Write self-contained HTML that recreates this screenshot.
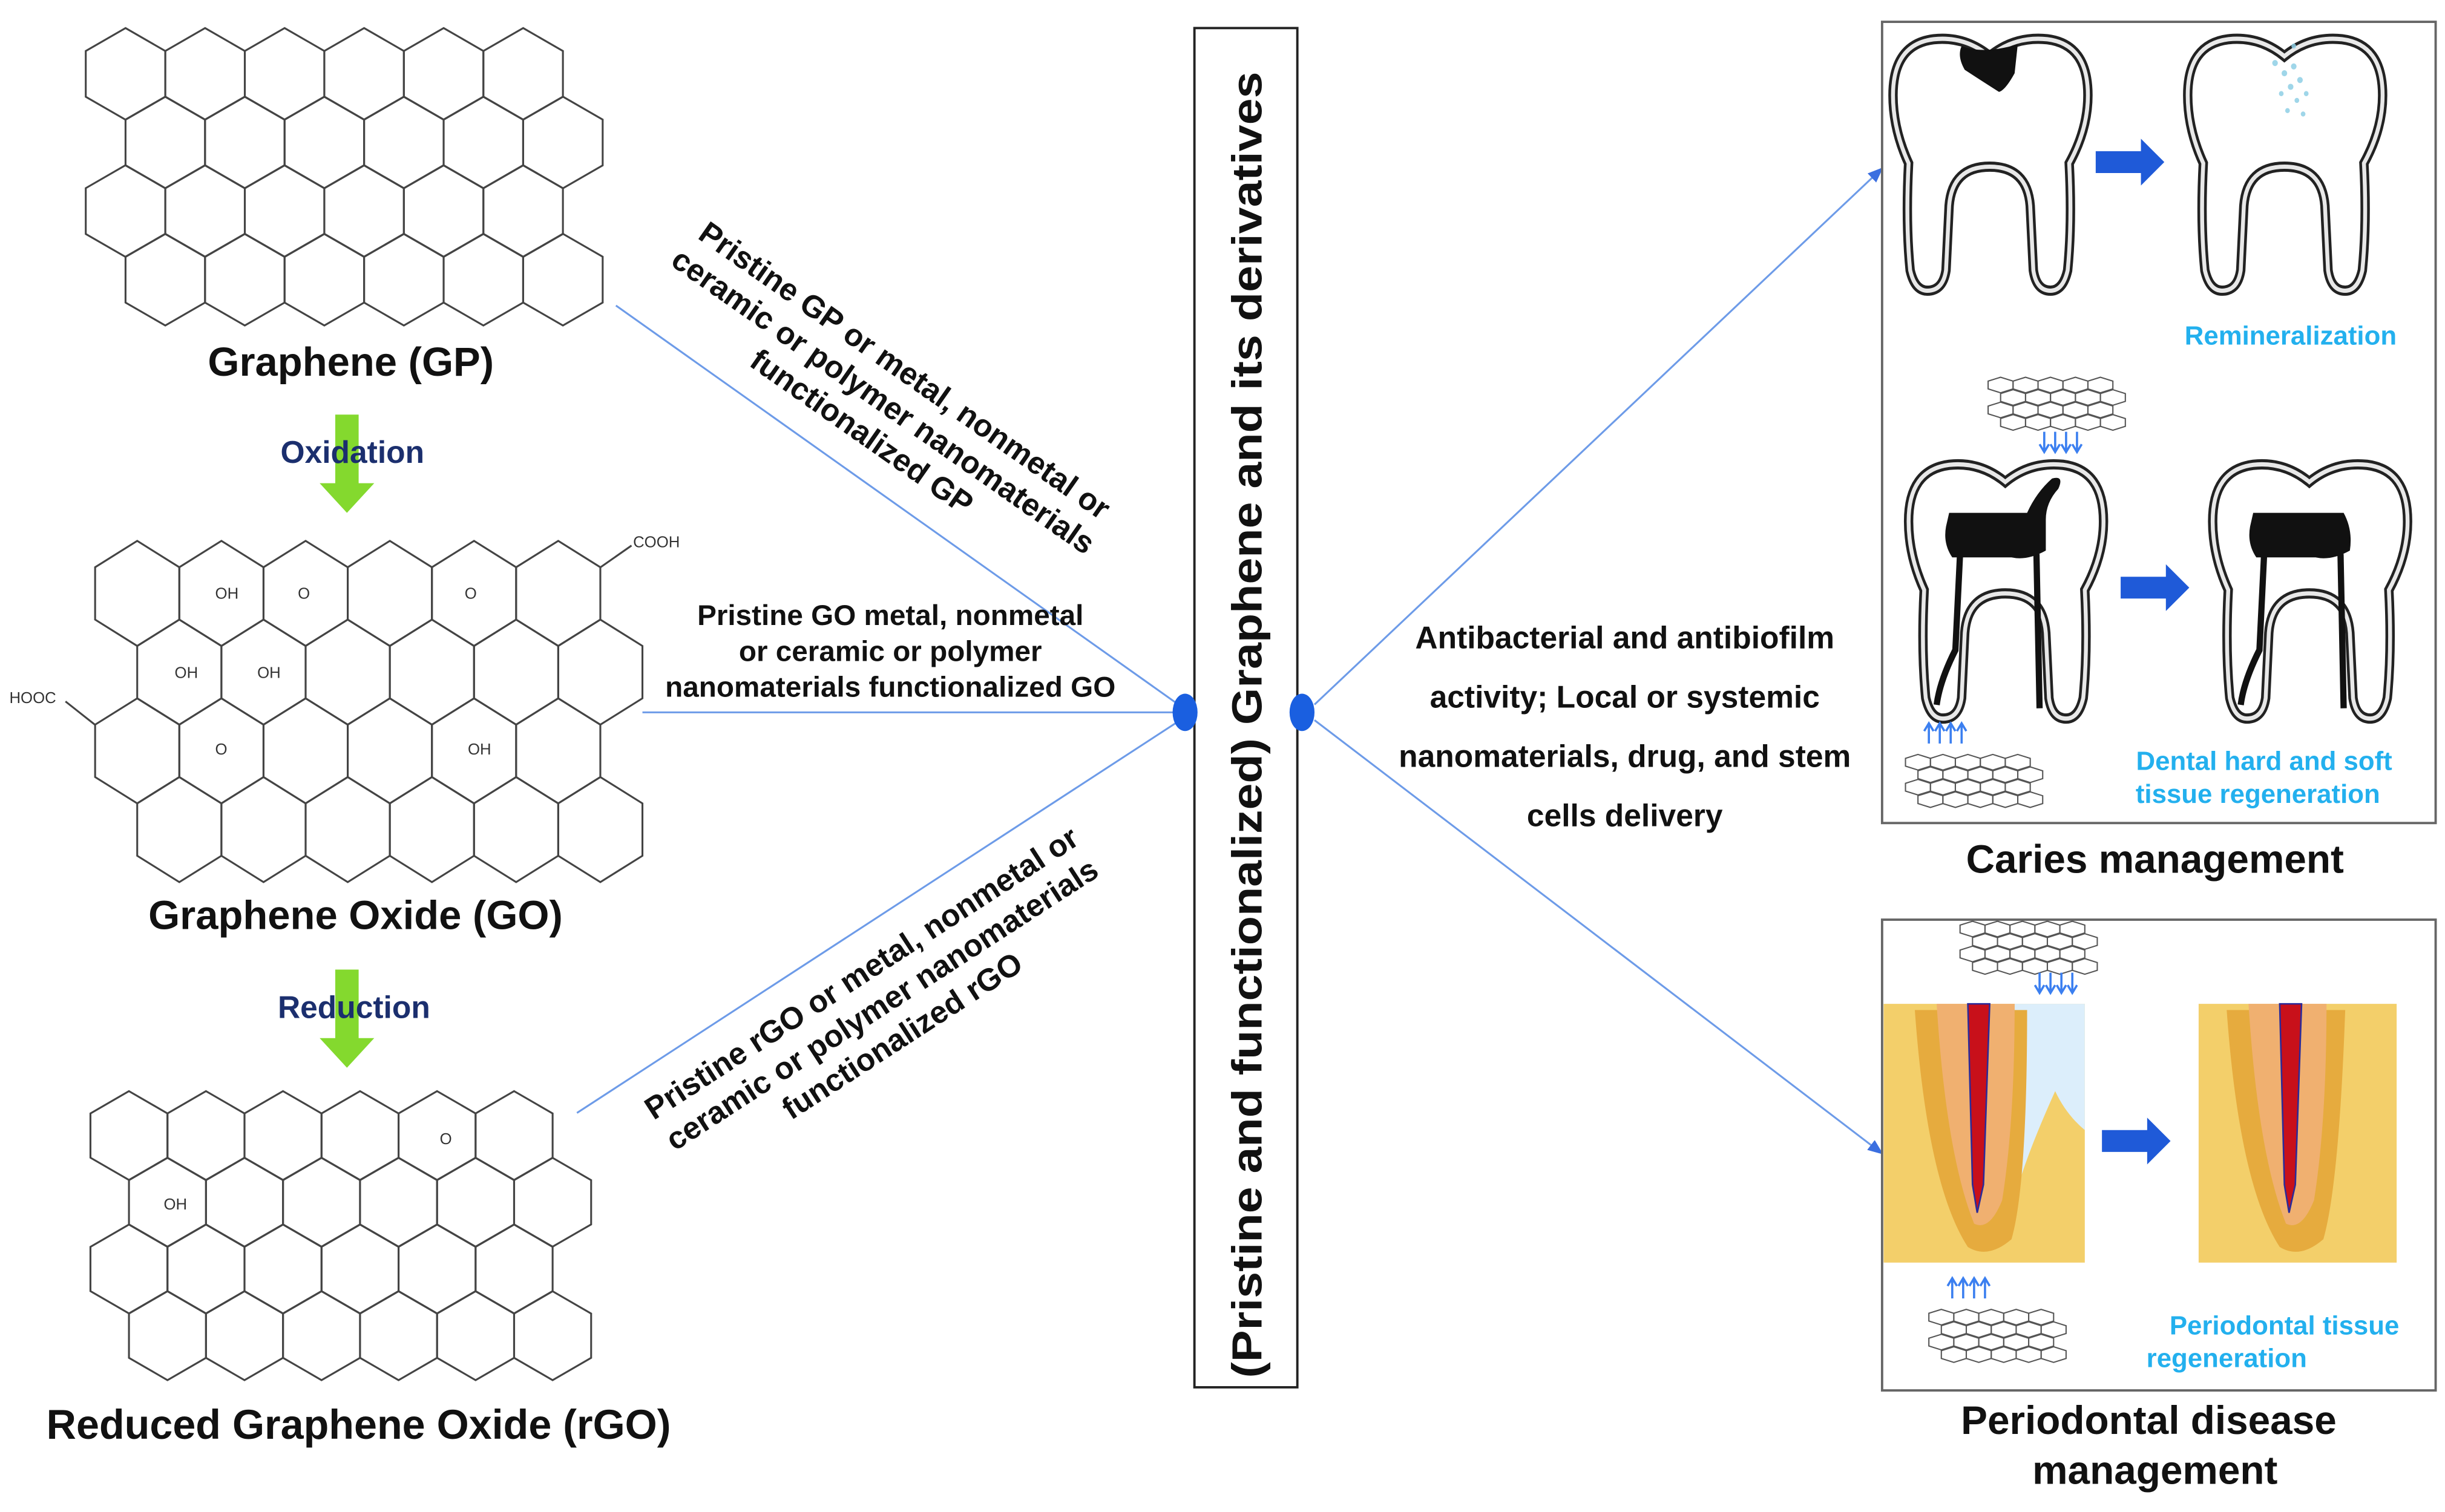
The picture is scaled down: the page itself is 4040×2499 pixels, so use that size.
<!DOCTYPE html>
<html><head><meta charset="utf-8"><style>
html,body{margin:0;padding:0;background:#fff;}
svg{display:block;}
text{font-family:"Liberation Sans",Arial,sans-serif;font-weight:bold;}
</style></head><body>
<svg width="4040" height="2499" viewBox="0 0 1568 970" preserveAspectRatio="none" xmlns="http://www.w3.org/2000/svg">
<defs>
<path id="hGP" d="M0,-29.4 L25.5,-14.7 L25.5,14.7 L0,29.4 L-25.5,14.7 L-25.5,-14.7 Z" fill="none" stroke="#444" stroke-width="1.2"/>
<g id="rGP"><use href="#hGP" x="0"/><use href="#hGP" x="51"/><use href="#hGP" x="102"/><use href="#hGP" x="153"/><use href="#hGP" x="204"/><use href="#hGP" x="255"/></g>
<path id="hGO" d="M0,-33.7 L27,-16.8 L27,16.8 L0,33.7 L-27,16.8 L-27,-16.8 Z" fill="none" stroke="#444" stroke-width="1.2"/>
<g id="rGO"><use href="#hGO" x="0"/><use href="#hGO" x="54"/><use href="#hGO" x="108"/><use href="#hGO" x="162"/><use href="#hGO" x="216"/><use href="#hGO" x="270"/></g>
<path id="hR" d="M0,-28.5 L24.7,-14.2 L24.7,14.2 L0,28.5 L-24.7,14.2 L-24.7,-14.2 Z" fill="none" stroke="#444" stroke-width="1.2"/>
<g id="rR"><use href="#hR" x="0"/><use href="#hR" x="49.4"/><use href="#hR" x="98.8"/><use href="#hR" x="148.2"/><use href="#hR" x="197.6"/><use href="#hR" x="247"/></g>
<path id="hs" d="M0,-5 L8,-2.5 L8,2.5 L0,5 L-8,2.5 L-8,-2.5 Z" fill="none" stroke="#555" stroke-width="0.8"/>
<g id="rs"><use href="#hs" x="0"/><use href="#hs" x="16"/><use href="#hs" x="32"/><use href="#hs" x="48"/><use href="#hs" x="64"/></g>
<g id="sheet"><use href="#rs" y="0"/><use href="#rs" x="8" y="8"/><use href="#rs" y="16"/><use href="#rs" x="8" y="24"/></g>
<path id="tooth" d="M66,12 Q50,0 30,2 Q4,5 4,35 Q4,55 14,75 Q12,110 15,138 Q18,150 26,150 Q36,150 38,138 L40,100 Q42,77 66,77 Q90,77 92,100 L94,138 Q96,150 105,150 Q113,150 116,138 Q119,110 117,75 Q129,55 129,35 Q129,5 103,2 Q82,0 66,12 Z"/>
<g id="t"><use href="#tooth" fill="#fff" stroke="#222" stroke-width="6"/><use href="#tooth" fill="none" stroke="#e8e8e8" stroke-width="2.5"/></g>
<marker id="ah" markerWidth="10" markerHeight="8" refX="9" refY="4" orient="auto" markerUnits="userSpaceOnUse"><path d="M0,0 L10,4 L0,8 Z" fill="#3b6fe0"/></marker>
<g id="bigArr"><path d="M0,-7 L29,-7 L29,-15 L44,0 L29,15 L29,7 L0,7 Z" fill="#1f5ad8"/></g>
<g id="dn"><path d="M0,0 V12 M-3,8 L0,13 L3,8" stroke="#3b7ff0" stroke-width="1.4" fill="none"/></g>
</defs>

<g transform="translate(80.5,47.4)"><use href="#rGP"/><use href="#rGP" x="25.5" y="44"/><use href="#rGP" y="88"/><use href="#rGP" x="25.5" y="132"/></g>
<text x="225" y="241" font-size="26" text-anchor="middle" fill="#111">Graphene (GP)</text>
<path d="M215,266 h15 v44 h10 l-17.5,19 l-17.5,-19 h10 Z" fill="#84d92e"/>
<text x="226" y="297" font-size="20" text-anchor="middle" fill="#1b2f6e">Oxidation</text>

<g transform="translate(88,380.7)"><use href="#rGO"/><use href="#rGO" x="27" y="50.5"/><use href="#rGO" y="101"/><use href="#rGO" x="27" y="151.5"/></g>
<g stroke="#444" stroke-width="1.2"><line x1="385" y1="364" x2="405" y2="350"/><line x1="61" y1="465" x2="42" y2="450"/></g>
<g font-size="10" fill="#333">
<text x="406" y="351" style="font-weight:normal">COOH</text>
<text x="6" y="451" style="font-weight:normal">HOOC</text>
<text x="138" y="384" style="font-weight:normal">OH</text>
<text x="112" y="435" style="font-weight:normal">OH</text>
<text x="165" y="435" style="font-weight:normal">OH</text>
<text x="300" y="484" style="font-weight:normal">OH</text>
<text x="191" y="384" style="font-weight:normal">O</text>
<text x="298" y="384" style="font-weight:normal">O</text>
<text x="138" y="484" style="font-weight:normal">O</text>
</g>
<text x="228" y="596" font-size="26" text-anchor="middle" fill="#111">Graphene Oxide (GO)</text>
<path d="M215,622 h15 v44 h10 l-17.5,19 l-17.5,-19 h10 Z" fill="#84d92e"/>
<text x="227" y="653" font-size="20" text-anchor="middle" fill="#1b2f6e">Reduction</text>

<g transform="translate(82.7,728.5)"><use href="#rR"/><use href="#rR" x="24.7" y="42.8"/><use href="#rR" y="85.6"/><use href="#rR" x="24.7" y="128.4"/></g>
<text x="105" y="776" font-size="10" fill="#333" style="font-weight:normal">OH</text>
<text x="282" y="734" font-size="10" fill="#333" style="font-weight:normal">O</text>
<text x="230" y="923" font-size="26.5" text-anchor="middle" fill="#111">Reduced Graphene Oxide (rGO)</text>

<g stroke="#6d9be8" stroke-width="1.2" fill="none">
<line x1="395" y1="196" x2="760" y2="455"/>
<line x1="412" y1="457" x2="760" y2="457"/>
<line x1="370" y1="714" x2="760" y2="460"/>
<line x1="843" y1="452" x2="1207" y2="108" marker-end="url(#ah)"/>
<line x1="843" y1="462" x2="1207" y2="740" marker-end="url(#ah)"/>
</g>

<g font-size="20" fill="#111" text-anchor="middle">
<g transform="translate(566,258) rotate(35)">
<text x="0" y="-18">Pristine GP or metal, nonmetal or</text>
<text x="0" y="6">ceramic or polymer nanomaterials</text>
<text x="0" y="30">functionalized GP</text></g>
<g font-size="18.5">
<text x="571" y="401">Pristine GO metal, nonmetal</text>
<text x="571" y="424">or ceramic or polymer</text>
<text x="571" y="447">nanomaterials functionalized GO</text>
</g>
<g transform="translate(566,645) rotate(-33)">
<text x="0" y="-18">Pristine rGO or metal, nonmetal or</text>
<text x="0" y="6">ceramic or polymer nanomaterials</text>
<text x="0" y="30">functionalized rGO</text></g>
</g>

<rect x="766" y="18" width="66" height="872" fill="#fff" stroke="#222" stroke-width="1.5"/>
<text transform="translate(809,884) rotate(-90)" font-size="27" fill="#111" textLength="838" lengthAdjust="spacingAndGlyphs">(Pristine  and functionalized)  Graphene  and its derivatives</text>
<ellipse cx="760" cy="457" rx="8" ry="12" fill="#1a5fe0"/>
<ellipse cx="835" cy="457" rx="8" ry="12" fill="#1a5fe0"/>

<g font-size="20" fill="#111" text-anchor="middle">
<text x="1042" y="416">Antibacterial and antibiofilm</text>
<text x="1042" y="454">activity; Local or systemic</text>
<text x="1042" y="492">nanomaterials, drug, and stem</text>
<text x="1042" y="530">cells delivery</text>
</g>

<rect x="1207" y="14" width="355" height="514" fill="#fff" stroke="#666" stroke-width="1.5"/>
<g transform="translate(1210,23) scale(1,1.09)"><use href="#t"/>
<path d="M48,6 Q62,11 84,5 L82,22 Q76,32 72,33 Q60,26 50,20 Q45,12 48,6 Z" fill="#111"/></g>
<use href="#bigArr" transform="translate(1344,104)"/>
<g transform="translate(1399,23) scale(1,1.09)"><use href="#t"/>
<g fill="#8fcfe6" opacity="0.85"><circle cx="60" cy="16" r="1.8"/><circle cx="66" cy="22" r="1.8"/><circle cx="72" cy="18" r="1.8"/><circle cx="70" cy="30" r="1.8"/><circle cx="76" cy="26" r="1.8"/><circle cx="64" cy="34" r="1.5"/><circle cx="74" cy="38" r="1.5"/><circle cx="80" cy="34" r="1.5"/><circle cx="68" cy="44" r="1.5"/><circle cx="78" cy="46" r="1.5"/><circle cx="72" cy="6" r="1.5"/></g></g>
<text x="1469" y="221" font-size="17" fill="#23b0ee" text-anchor="middle">Remineralization</text>
<use href="#sheet" transform="translate(1283,247)"/>
<g transform="translate(1311,277)"><use href="#dn"/><use href="#dn" x="7"/><use href="#dn" x="14"/><use href="#dn" x="21"/></g>
<g transform="translate(1220,296) scale(1,1.1)"><use href="#t"/>
<path d="M30,30 L80,30 Q86,18 96,10 Q104,8 100,16 Q92,24 92,34 L92,52 Q80,58 70,56 L32,56 Q26,48 28,38 Z" fill="#111"/>
<path d="M37,54 L34,110 Q24,128 22,142" stroke="#111" stroke-width="4" fill="none"/>
<path d="M86,54 L88,144" stroke="#111" stroke-width="4" fill="none"/></g>
<use href="#bigArr" transform="translate(1360,377)"/>
<g transform="translate(1415,296) scale(1,1.1)"><use href="#t"/>
<path d="M30,30 L88,30 Q94,40 92,52 Q80,58 70,56 L32,56 Q26,48 28,38 Z" fill="#111"/>
<path d="M37,54 L34,110 Q24,128 22,142" stroke="#111" stroke-width="4" fill="none"/>
<path d="M86,54 L88,144" stroke="#111" stroke-width="4" fill="none"/></g>
<g transform="translate(1237,477) scale(1,-1)"><use href="#dn"/><use href="#dn" x="7"/><use href="#dn" x="14"/><use href="#dn" x="21"/></g>
<use href="#sheet" transform="translate(1230,489)"/>
<text x="1452" y="494" font-size="17" fill="#23b0ee" text-anchor="middle">Dental hard and soft</text>
<text x="1448" y="515" font-size="17" fill="#23b0ee" text-anchor="middle">tissue regeneration</text>
<text x="1382" y="560" font-size="25.5" fill="#111" text-anchor="middle">Caries management</text>

<rect x="1207" y="590" width="355" height="302" fill="#fff" stroke="#666" stroke-width="1.5"/>
<use href="#sheet" transform="translate(1265,596)"/>
<g transform="translate(1308,624)"><use href="#dn"/><use href="#dn" x="7"/><use href="#dn" x="14"/><use href="#dn" x="21"/></g>
<g>
<rect x="1208" y="644" width="129" height="166" fill="#f3cf6a"/>
<path d="M1292,644 H1337 V725 Q1325,715 1318,700 Q1300,740 1293,765 Z" fill="#dceefb"/>
<path d="M1228,648 Q1236,760 1262,800 Q1275,808 1290,795 Q1300,760 1300,648 Z" fill="#e6ab3e"/>
<path d="M1242,644 Q1248,740 1266,785 Q1276,790 1284,770 Q1292,720 1292,644 Z" fill="#f0b070"/>
<path d="M1262,644 L1265,760 L1268,778 L1272,760 L1276,644 Z" fill="#c8101a" stroke="#2a2a9a" stroke-width="1"/>
</g>
<use href="#bigArr" transform="translate(1348,732)"/>
<g>
<rect x="1410" y="644" width="127" height="166" fill="#f3cf6a"/>
<path d="M1428,648 Q1436,760 1462,800 Q1475,808 1490,795 Q1500,760 1504,648 Z" fill="#e6ab3e"/>
<path d="M1442,644 Q1448,740 1466,785 Q1476,790 1484,770 Q1492,720 1492,644 Z" fill="#f0b070"/>
<path d="M1462,644 L1465,760 L1468,778 L1472,760 L1476,644 Z" fill="#c8101a" stroke="#2a2a9a" stroke-width="1"/>
</g>
<g transform="translate(1252,833) scale(1,-1)"><use href="#dn"/><use href="#dn" x="7"/><use href="#dn" x="14"/><use href="#dn" x="21"/></g>
<use href="#sheet" transform="translate(1245,845)"/>
<text x="1465" y="856" font-size="17" fill="#23b0ee" text-anchor="middle">Periodontal tissue</text>
<text x="1428" y="877" font-size="17" fill="#23b0ee" text-anchor="middle">regeneration</text>
<text x="1378" y="920" font-size="25.5" fill="#111" text-anchor="middle">Periodontal disease</text>
<text x="1382" y="952" font-size="25.5" fill="#111" text-anchor="middle">management</text>
</svg>
</body></html>
